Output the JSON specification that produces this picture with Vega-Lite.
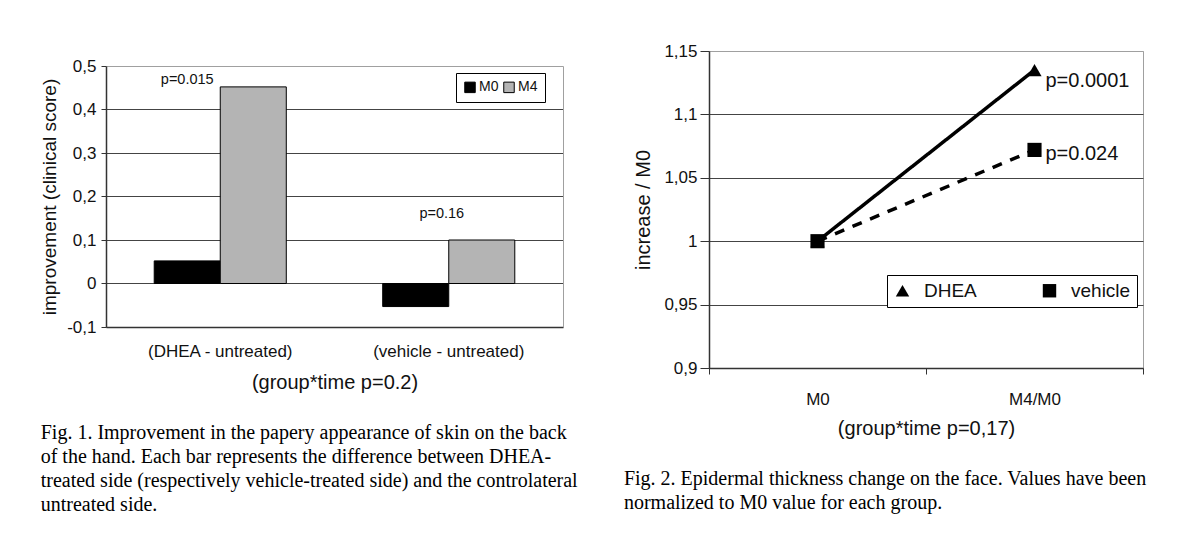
{
  "$schema": "https://vega.github.io/schema/vega-lite/v6.json",
  "background": "white",
  "padding": {"left": 40, "top": 41, "right": 0, "bottom": 0},
  "config": {
    "font": "Liberation Sans",
    "view": {"stroke": "#a0a0a0", "strokeWidth": 1},
    "axis": {"domainColor": "#333", "tickColor": "#333", "labelColor": "#111", "titleColor": "#111", "titleFontWeight": "normal", "gridColor": "#444", "domainWidth": 1.5},
    "title": {"fontWeight": "normal", "color": "#000"}
  },
  "align": "none",
  "spacing": 45,
  "hconcat": [
    {
      "width": 457,
      "height": 276,
      "view": {"stroke": null},
      "title": {
        "text": [
          "Fig. 1. Improvement in the papery appearance of skin on the back",
          "of the hand. Each bar represents the difference between DHEA-",
          "treated side (respectively vehicle-treated side) and the controlateral",
          "untreated side."
        ],
        "orient": "bottom", "anchor": "start", "frame": "bounds",
        "font": "Liberation Serif", "fontSize": 20, "lineHeight": 24, "offset": 31
      },
      "data": {"values": [
        {"group": "(DHEA - untreated)", "time": "M0", "value": 0.052},
        {"group": "(DHEA - untreated)", "time": "M4", "value": 0.452},
        {"group": "(vehicle - untreated)", "time": "M0", "value": -0.053},
        {"group": "(vehicle - untreated)", "time": "M4", "value": 0.1}
      ]},
      "resolve": {"axis": {"y": "independent"}},
      "layer": [
        {
          "mark": {"type": "bar", "stroke": "#000", "strokeWidth": 1},
          "encoding": {
            "x": {"field": "group", "type": "nominal", "scale": {"paddingInner": 0, "paddingOuter": 0},
              "axis": {"title": "(group*time p=0.2)", "labelAngle": 0, "ticks": false, "grid": false, "labelFontSize": 17, "labelPadding": 16, "titleFontSize": 20, "titlePadding": 13}},
            "xOffset": {"field": "time", "type": "nominal", "scale": {"paddingInner": 0, "paddingOuter": 0.73}},
            "y": {"field": "value", "type": "quantitative", "scale": {"domain": [-0.1, 0.5], "nice": false, "zero": false, "range": [276, 15]},
              "axis": {"title": "improvement (clinical score)", "values": [-0.1, 0, 0.1, 0.2, 0.3, 0.4, 0.5],
                "labelExpr": "replace(replace(format(datum.value, '.1~f'), '.', ','), '−', '-')",
                "tickSize": 5, "labelPadding": 5, "titlePadding": 7, "titleFontSize": 19, "labelFontSize": 17,
                "grid": true, "gridColor": {"condition": {"test": "datum.value === 0.5", "value": "#a0a0a0"}, "value": "#444"}}},
            "color": {"field": "time", "type": "nominal", "scale": {"range": ["#000000", "#b4b4b4"]},
              "legend": {"orient": "none", "legendX": 350, "legendY": 22, "direction": "horizontal", "title": null,
                "strokeColor": "#000", "fillColor": "#fff", "padding": 7, "labelFontSize": 14, "symbolType": "square",
                "symbolSize": 110, "symbolStrokeColor": "#000", "symbolStrokeWidth": 1, "columnPadding": 2, "labelOffset": 2, "labelColor": "#111"}}
          }
        },
        {
          "data": {"values": [{"group": "(DHEA - untreated)", "time": "M0", "value": 0.468, "label": "p=0.015"}]},
          "mark": {"type": "text", "fontSize": 14.5, "color": "#111"},
          "encoding": {
            "x": {"field": "group", "type": "nominal"},
            "xOffset": {"field": "time", "type": "nominal"},
            "y": {"field": "value", "type": "quantitative", "axis": null},
            "text": {"field": "label"}
          }
        },
        {
          "data": {"values": [{"group": "(vehicle - untreated)", "value": 0.16, "label": "p=0.16"}]},
          "mark": {"type": "text", "fontSize": 14.5, "color": "#111", "dx": -7},
          "encoding": {
            "x": {"field": "group", "type": "nominal"},
            "y": {"field": "value", "type": "quantitative",
              "axis": {"orient": "right", "title": null, "labels": false, "ticks": false, "grid": false, "domain": true, "domainColor": "#a0a0a0", "domainWidth": 1}},
            "text": {"field": "label"}
          }
        }
      ]
    },
    {
      "width": 434,
      "height": 317,
      "title": {
        "text": [
          "Fig. 2. Epidermal thickness change on the face. Values have been",
          "normalized to M0 value for each group."
        ],
        "orient": "bottom", "anchor": "start", "frame": "bounds", "dx": -10,
        "font": "Liberation Serif", "fontSize": 20, "lineHeight": 24, "offset": 31
      },
      "data": {"values": [
        {"time": "M0", "series": "DHEA", "value": 1},
        {"time": "M4/M0", "series": "DHEA", "value": 1.135},
        {"time": "M0", "series": "vehicle", "value": 1},
        {"time": "M4/M0", "series": "vehicle", "value": 1.072}
      ]},
      "encoding": {
        "x": {"field": "time", "type": "nominal", "scale": {"type": "band", "paddingInner": 0, "paddingOuter": 0},
          "axis": {"title": "(group*time p=0,17)", "labelAngle": 0, "ticks": true, "tickSize": 6, "tickBand": "extent", "grid": false,
            "labelFontSize": 17, "labelPadding": 17, "titleFontSize": 20, "titlePadding": 11}},
        "y": {"field": "value", "type": "quantitative", "scale": {"domain": [0.9, 1.15], "nice": false, "zero": false},
          "axis": {"title": "increase / M0", "values": [0.9, 0.95, 1, 1.05, 1.1, 1.15],
            "labelExpr": "replace(format(datum.value, '.2~f'), '.', ',')",
            "tickSize": 9, "labelPadding": 3, "titlePadding": 10, "titleFontSize": 20, "labelFontSize": 17,
            "grid": true, "gridColor": {"condition": {"test": "datum.value === 1.15", "value": "#a0a0a0"}, "value": "#444"}}}
      },
      "layer": [
        {
          "mark": {"type": "line", "color": "#000", "strokeWidth": 3.5},
          "encoding": {
            "strokeDash": {"field": "series", "type": "nominal", "scale": {"domain": ["DHEA", "vehicle"], "range": [[1, 0], [10, 9]]},
              "legend": {"orient": "none", "legendX": 781, "legendY": 224, "direction": "horizontal", "title": null,
                "strokeColor": "#000", "fillColor": "#fff", "padding": 6, "labelFontSize": 19, "symbolSize": 180,
                "symbolFillColor": "#000", "symbolStrokeColor": "#000", "columnPadding": 62, "labelOffset": 12, "labelColor": "#111"}}
          }
        },
        {
          "mark": {"type": "point", "filled": true, "color": "#000", "size": 200, "opacity": 1},
          "encoding": {
            "shape": {"field": "series", "type": "nominal", "scale": {"domain": ["DHEA", "vehicle"], "range": ["triangle-up", "square"]},
              "legend": {"orient": "none", "legendX": 781, "legendY": 224, "direction": "horizontal", "title": null,
                "strokeColor": "#000", "fillColor": "#fff", "padding": 6, "labelFontSize": 19, "symbolSize": 180,
                "symbolFillColor": "#000", "symbolStrokeColor": "#000", "columnPadding": 62, "labelOffset": 12, "labelColor": "#111"}}
          }
        },
        {
          "data": {"values": [
            {"time": "M4/M0", "value": 1.126, "label": "p=0.0001"},
            {"time": "M4/M0", "value": 1.0686, "label": "p=0.024"}
          ]},
          "mark": {"type": "text", "align": "left", "dx": 11, "fontSize": 20, "color": "#111"},
          "encoding": {
            "x": {"field": "time", "type": "nominal"},
            "y": {"field": "value", "type": "quantitative"},
            "text": {"field": "label"}
          }
        }
      ]
    }
  ]
}
